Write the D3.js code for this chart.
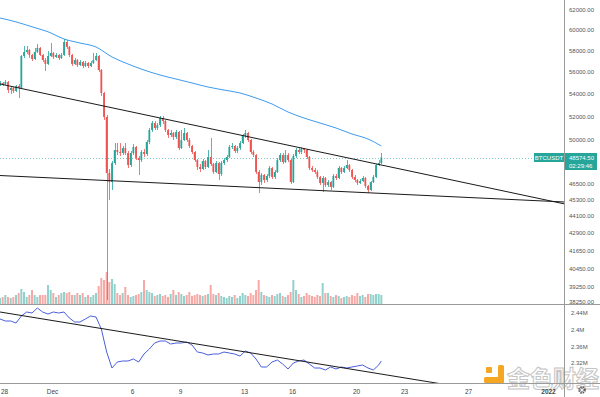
<!DOCTYPE html>
<html>
<head>
<meta charset="utf-8">
<script src="https://cdn.jsdelivr.net/npm/d3@7"></script>
<style>
  body { margin: 0; background: #fff; }
  svg { display: block; font-family: "Liberation Sans", Arial, sans-serif; }
</style>
</head>
<body>
<div id="chart"></div>
<script>
//BTCUSDT 4h candles, first candle Nov 27 2021 16:00
var symbol = "BTCUSDT";
var countdown = "02:29:46";
var firstOpen = 54767;
var closes = [54950,54860,55040,54314,54495,54225,54675,54495,57460,57840,
  58030,57555,57173,57840,58224,57555,57078,56704,57460,57745,
  57364,57555,57268,57555,58805,58320,57555,56704,57078,56610,
  56890,56516,56797,56516,56797,57078,57460,56142,54047,51943,
  47348,46646,48135,49182,49020,48939,49346,48939,47977,48939,
  49428,48537,48375,49020,48858,49839,50837,51430,51006,51260,
  51857,51600,50837,50420,50587,50253,50670,49346,50003,50587,
  50003,49510,49020,48375,47820,47661,48295,47820,48617,48056,
  47426,48135,47270,48135,48375,48617,49428,49510,49100,49346,
  49756,50337,50587,50003,49020,48777,47426,46646,47191,46801,
  47114,47740,47036,47426,48375,48777,48215,48777,48375,46646,
  48697,49182,49020,49264,49182,48617,47740,47582,47426,47036,
  46570,46957,46416,46646,46263,47114,46957,47740,47426,47740,
  47977,47582,47036,46801,46570,46724,46957,46340,46033,46646,
  47036,47977,48135,48574.5];
var highs = [55130,55040,55220,55130,54675,54585,54765,54860,57555,58417,
  58417,58127,57650,58224,58610,58320,57650,57268,57935,58708,
  57840,57745,57650,57745,59098,58998,58417,57650,57268,57173,
  57078,56984,56984,56890,56984,57745,57745,57555,56235,54136,
  52120,47660,48300,49756,49756,49756,49510,49756,49100,49100,
  49670,49510,48700,49182,49264,50003,51006,51600,51600,51430,
  52030,52030,51690,50920,50837,50670,50837,50753,50837,51006,
  50670,50170,49593,49100,48456,48056,48456,48375,49182,50170,
  48135,48295,48215,48295,48537,48777,49593,49756,49593,49510,
  49920,50503,50837,50670,50087,49182,48858,47582,47348,47270,
  47270,47900,47820,47582,48537,48939,48939,49182,48939,48456,
  48858,49346,49346,49428,49346,49264,48697,47900,47740,47582,
  47114,47114,47036,46801,46724,47270,47270,47900,47820,47900,
  48375,48056,47661,47191,46880,46880,47114,47036,46420,46724,
  47191,48056,48375,48939];
var lows = [54675,54675,54765,54047,53958,54047,54136,53600,54404,57268,
  57650,57268,56984,57078,57745,57460,56890,56050,56610,57364,
  57173,57268,57078,57173,57460,58127,57364,56516,56610,56420,
  56516,56327,56420,56327,56420,56704,56984,55960,53780,51690,
  38375,45278,46033,47980,48780,48700,48780,48780,47740,47820,
  48780,48375,47191,48215,48617,48700,49670,50670,50837,50837,
  51090,51350,50670,50170,50253,50003,50087,49182,49264,49920,
  49839,49346,48858,48215,47582,47426,47582,47661,47740,47900,
  47270,47348,46801,47114,47977,48215,48537,49264,48939,48939,
  49182,49670,50170,49839,48858,48617,47270,45803,46420,46570,
  46646,46957,46880,46880,47348,48215,48056,48135,48215,46490,
  46570,48537,48858,48858,48939,48456,47582,47426,47270,46880,
  46420,45880,46263,46263,46033,46187,46801,46880,47270,47348,
  47661,47426,46880,46646,46420,46490,46646,46187,45803,45960,
  46570,46957,47900,48056];
//volume in thousand BTC
var volumes = [6,7,9,7,6,7,9,11,15,12,
  7,9,14,9,7,9,9,9,19,14,
  11,7,9,11,12,11,12,9,9,11,
  9,11,7,9,7,9,11,18,26,24,
  32,22,25,20,11,9,11,17,9,7,
  8,9,10,12,24,14,12,11,8,9,
  10,8,9,7,10,14,9,12,10,8,
  9,12,8,9,10,9,8,9,10,19,
  10,9,11,8,7,6,8,7,9,6,
  8,11,9,8,11,9,14,24,12,9,
  8,7,9,8,10,11,8,7,9,12,
  24,14,10,7,8,11,9,8,7,9,
  8,21,11,11,8,7,9,8,6,7,
  8,7,9,8,11,8,9,7,10,10,
  9,10,10,9];

//blue moving average, one value per day (every 6th candle)
var maIndex = [0,6,12,18,24,30,36,42,48,54,60,66,72,78,84,90,96,102,108,114,120,126,132,138,143];
var maValues = [61185,60794,60299,59808,59098,58707,58320,57364,56704,56142,55680,55312,54950,
  54585,54314,54047,53600,53075,52375,51857,51430,51006,50503,50087,49510];

//lower pane indicator (millions), every 2nd candle plus the last one
var obvValues = [2.4256,2.4208,2.4208,2.416,2.4328,2.4424,2.44,2.452,2.4424,2.4376,
  2.4424,2.44,2.4424,2.428,2.4184,2.4184,2.4256,2.4328,2.4304,2.4016,
  2.3464,2.308,2.3224,2.3248,2.3248,2.3296,2.3224,2.3416,2.3536,2.368,
  2.3728,2.3728,2.3656,2.368,2.368,2.3704,2.3632,2.3464,2.344,2.3392,
  2.3416,2.3416,2.3464,2.344,2.3416,2.3368,2.3488,2.344,2.3296,2.3104,
  2.3104,2.3224,2.3272,2.3176,2.3056,2.32,2.3248,2.3272,2.3176,2.308,
  2.308,2.3032,2.3104,2.3056,2.3104,2.308,2.3104,2.3128,2.3152,2.308,
  2.3032,2.3152,2.3248];

//trend lines: value at start and end of visible range
var trendDates = [new Date(2021, 10, 27, 18), new Date(2022, 0, 2, 1, 30)];
var upperTrend = [54858, 44979];
var lowerTrend = [47150, 45130];
var obvTrend = [2.4424, 2.2216];

//axis ticks
var priceTicks = [62000, 60000, 58000, 56000, 54000, 52000, 50000, 46500, 45300, 44100, 42900, 41650, 40450, 39250, 38250];
var obvTicks = [2.44, 2.4, 2.36, 2.32];
var timeTicks = [new Date(2021, 10, 28), new Date(2021, 11, 1), new Date(2021, 11, 6), new Date(2021, 11, 9),
  new Date(2021, 11, 13), new Date(2021, 11, 16), new Date(2021, 11, 20), new Date(2021, 11, 23),
  new Date(2021, 11, 27), new Date(2022, 0, 1)];
var timeLabels = ["28", "Dec", "6", "9", "13", "16", "20", "23", "27", "2022"];

var width = 600, height = 397,
  plotRight = 565, priceBottom = 304, obvBottom = 383;

var green = "#26a69a", red = "#ef5350";

//build candle objects
var start = new Date(2021, 10, 27, 18);
var candles = closes.map(function(c, i) {
  return {
    time: new Date(start.getTime() + i * 4 * 3600 * 1000),
    open: i === 0 ? firstOpen : closes[i - 1],
    close: c, high: highs[i], low: lows[i], volume: volumes[i]
  };
});

var x = d3.scaleTime().domain(trendDates).range([0, plotRight]);
var y = d3.scaleLog().domain([38250, 62000]).range([302, 10]);
var yVol = d3.scaleLinear().domain([0, 40]).range([priceBottom, priceBottom - 40]);
var yObv = d3.scaleLinear().domain([2.32, 2.44]).range([363, 313]);

var svg = d3.select("#chart").append("svg")
  .attr("width", width).attr("height", height);

var defs = svg.append("defs");
defs.append("clipPath").attr("id", "priceClip")
  .append("rect").attr("x", 0).attr("y", 0).attr("width", plotRight).attr("height", priceBottom);
defs.append("clipPath").attr("id", "obvClip")
  .append("rect").attr("x", 0).attr("y", priceBottom).attr("width", plotRight).attr("height", obvBottom - priceBottom);

//watermark, drawn first so everything sits on top
var wm = svg.append("g");
wm.append("rect").attr("x", 498).attr("y", 365).attr("width", 6).attr("height", 18).attr("rx", 1.5).attr("fill", "#f5a623");
wm.append("rect").attr("x", 484).attr("y", 377).attr("width", 20).attr("height", 6).attr("rx", 1.5).attr("fill", "#f5a623");
wm.append("rect").attr("x", 486).attr("y", 367).attr("width", 6).attr("height", 6).attr("rx", 1).attr("fill", "#f5a623");
wm.append("text").attr("x", 507).attr("y", 387)
  .attr("fill", "#fff").attr("fill-opacity", 0.6).attr("stroke", "#c4c4c4").attr("stroke-width", 1)
  .style("font-family", "'Noto Sans CJK SC'").style("font-size", "23px").style("font-weight", "bold")
  .text("金色财经");

var price = svg.append("g").attr("clip-path", "url(#priceClip)");

//volume bars
price.selectAll("rect.vol")
  .data(candles)
  .enter().append("rect")
  .attr("class", "vol")
  .attr("x", function(d) { return x(d.time) - 1; })
  .attr("width", 2)
  .attr("y", function(d) { return yVol(d.volume); })
  .attr("height", function(d) { return yVol(0) - yVol(d.volume); })
  .attr("fill", function(d) { return d.close >= d.open ? green : red; })
  .attr("opacity", 0.5);

//current price dotted line
var last = candles[candles.length - 1];
price.append("line")
  .attr("x1", 0).attr("x2", plotRight)
  .attr("y1", Math.round(y(last.close)) + 0.5).attr("y2", Math.round(y(last.close)) + 0.5)
  .attr("stroke", green).attr("stroke-opacity", 0.6)
  .attr("stroke-dasharray", "1,2");

//moving average
var maLine = d3.line()
  .x(function(d, i) { return x(candles[maIndex[i]].time); })
  .y(function(d) { return y(d); })
  .curve(d3.curveMonotoneX);
price.append("path")
  .datum(maValues)
  .attr("d", maLine)
  .attr("fill", "none")
  .attr("stroke", "#3d9cf0")
  .attr("stroke-width", 1);

//wicks
price.selectAll("line.wick")
  .data(candles)
  .enter().append("line")
  .attr("class", "wick")
  .attr("x1", function(d) { return Math.round(x(d.time)) + 0.5; })
  .attr("x2", function(d) { return Math.round(x(d.time)) + 0.5; })
  .attr("y1", function(d) { return y(d.high); })
  .attr("y2", function(d) { return y(d.low); })
  .attr("stroke", function(d) { return d.close >= d.open ? green : red; })
  .attr("stroke-width", 0.8);

//bodies
price.selectAll("rect.body")
  .data(candles)
  .enter().append("rect")
  .attr("class", "body")
  .attr("x", function(d) { return x(d.time) - 0.9; })
  .attr("width", 1.8)
  .attr("y", function(d) { return y(Math.max(d.open, d.close)); })
  .attr("height", function(d) { return Math.max(1, Math.abs(y(d.open) - y(d.close))); })
  .attr("fill", function(d) { return d.close >= d.open ? green : red; });

//trend lines
[upperTrend, lowerTrend].forEach(function(t) {
  price.append("line")
    .attr("x1", x(trendDates[0])).attr("y1", y(t[0]))
    .attr("x2", x(trendDates[1])).attr("y2", y(t[1]))
    .attr("stroke", "#1a1a1a").attr("stroke-width", 1);
});

//indicator pane
var obv = svg.append("g").attr("clip-path", "url(#obvClip)");
var obvIndex = d3.range(0, 144, 2).concat([143]);
var obvLine = d3.line()
  .x(function(d, i) { return x(candles[obvIndex[i]].time); })
  .y(function(d) { return yObv(d); });
obv.append("path")
  .datum(obvValues)
  .attr("d", obvLine)
  .attr("fill", "none")
  .attr("stroke", "#4a5fd9")
  .attr("stroke-width", 1);
obv.append("line")
  .attr("x1", x(trendDates[0])).attr("y1", yObv(obvTrend[0]))
  .attr("x2", x(trendDates[1])).attr("y2", yObv(obvTrend[1]))
  .attr("stroke", "#1a1a1a").attr("stroke-width", 1);

//pane borders
svg.append("line").attr("x1", plotRight - 0.5).attr("x2", plotRight - 0.5)
  .attr("y1", 0).attr("y2", height).attr("stroke", "#9a9a9a");
svg.append("line").attr("x1", 0).attr("x2", width)
  .attr("y1", priceBottom + 0.5).attr("y2", priceBottom + 0.5).attr("stroke", "#9a9a9a");
svg.append("line").attr("x1", 0).attr("x2", width)
  .attr("y1", obvBottom + 0.5).attr("y2", obvBottom + 0.5).attr("stroke", "#9a9a9a");

//price axis
svg.append("g")
  .attr("class", "y-axis")
  .attr("transform", "translate(" + plotRight + ",0)")
  .call(d3.axisRight(y).tickValues(priceTicks).tickFormat(d3.format(".2f")).tickSize(0).tickPadding(4))
  .call(function(g) { g.select(".domain").remove(); })
  .selectAll("text").attr("fill", "#555").style("font-size", "6px");

//indicator axis
svg.append("g")
  .attr("class", "obv-axis")
  .attr("transform", "translate(" + plotRight + ",0)")
  .call(d3.axisRight(yObv).tickValues(obvTicks).tickFormat(function(d) { return d + "M"; }).tickSize(0).tickPadding(6))
  .call(function(g) { g.select(".domain").remove(); })
  .selectAll("text").attr("fill", "#555").style("font-size", "6px");

//time axis
svg.append("g")
  .attr("class", "x-axis")
  .attr("transform", "translate(0," + (obvBottom + 3) + ")")
  .call(d3.axisBottom(x).tickValues(timeTicks).tickFormat(function(d, i) { return timeLabels[i]; }).tickSize(0))
  .call(function(g) { g.select(".domain").remove(); })
  .selectAll("text")
  .attr("fill", "#444")
  .style("font-size", "6.5px")
  .style("font-weight", function(d, i) { return timeLabels[i] === "2022" ? "bold" : "normal"; });

//last price labels
var ly = Math.round(y(last.close));
svg.append("rect").attr("x", 534).attr("y", ly - 5).attr("width", 30).attr("height", 9).attr("fill", green);
svg.append("text").attr("x", 549).attr("y", ly + 2).attr("text-anchor", "middle")
  .attr("fill", "#fff").style("font-size", "6px").text(symbol);
svg.append("rect").attr("x", plotRight).attr("y", ly - 5).attr("width", 32).attr("height", 17).attr("fill", green);
svg.append("text").attr("x", plotRight + 4).attr("y", ly + 2)
  .attr("fill", "#fff").style("font-size", "6px").text(d3.format(".2f")(last.close));
svg.append("text").attr("x", plotRight + 4).attr("y", ly + 10)
  .attr("fill", "#fff").style("font-size", "6px").text(countdown);

//settings gear
svg.append("circle").attr("cx", 582).attr("cy", 390).attr("r", 3)
  .attr("fill", "none").attr("stroke", "#555").attr("stroke-width", 1.6).attr("stroke-dasharray", "1.5,0.9");
svg.append("circle").attr("cx", 582).attr("cy", 390).attr("r", 1.6)
  .attr("fill", "#fff").attr("stroke", "#555").attr("stroke-width", 0.6);
</script>
</body>
</html>
